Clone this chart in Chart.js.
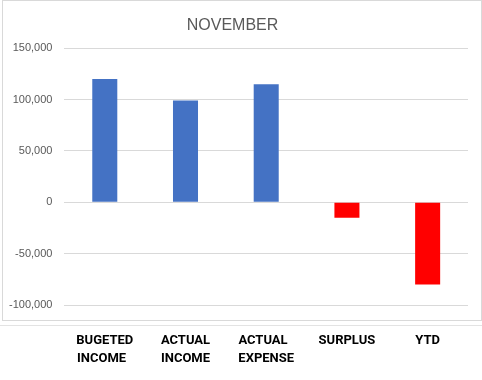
<!DOCTYPE html>
<html>
<head>
<meta charset="utf-8">
<script src="https://cdn.jsdelivr.net/npm/chart.js@4/dist/chart.umd.min.js"></script>
<style>
  html, body { margin: 0; padding: 0; background: #fff; }
  #wrap { position: relative; width: 482px; height: 380px; }
  #frame { position: absolute; left: 2px; top: 0; width: 478px; height: 319px; border: 1px solid #d9d9d9; pointer-events: none; }
  #rule { position: absolute; left: 0; top: 325px; width: 482px; height: 0; border-top: 1px solid #e3e3e3; pointer-events: none; }
  canvas { position: absolute; left: 0; top: 0; }
</style>
</head>
<body>
<div id="wrap">
  <canvas id="c" width="482" height="380"></canvas>
  <div id="frame"></div>
  <div id="rule"></div>
</div>
<script>
const title = "NOVEMBER";
const categories = [["BUGETED", "INCOME"], ["ACTUAL", "INCOME"], ["ACTUAL", "EXPENSE"], ["SURPLUS"], ["YTD"]];
const values = [120000, 99000, 115000, -15000, -80000];
const barColors = ["#4472C4", "#4472C4", "#4472C4", "#FF0000", "#FF0000"];
const yMin = -100000, yMax = 150000, yStep = 50000;

const labelFontCss = "bold 13px Roboto, 'Liberation Sans', sans-serif";
const labelFont = { family: "Roboto, 'Liberation Sans', sans-serif", size: 13, weight: "bold", lineHeight: 18 / 13 };

// pad shorter lines with trailing spaces so each multi-line label reads left-aligned
const mctx = document.createElement("canvas").getContext("2d");
mctx.font = labelFontCss;
function padLines(lines) {
  if (lines.length < 2) return lines;
  const w = lines.map(l => mctx.measureText(l).width);
  const maxW = Math.max(...w);
  return lines.map(l => {
    let s = l;
    while (mctx.measureText(s + " ").width <= maxW + 1.5) s += " ";
    return s;
  });
}

function draw() {
  mctx.font = labelFontCss;
  const labels = categories.map(padLines);
  new Chart(document.getElementById("c"), {
    type: "bar",
    data: {
      labels: labels,
      datasets: [{
        data: values,
        backgroundColor: barColors,
        borderWidth: 0,
        barPercentage: 0.31,
        categoryPercentage: 1.0
      }]
    },
    options: {
      responsive: false,
      animation: false,
      devicePixelRatio: 1,
      layout: { padding: { left: -3, right: 14, top: 15.5, bottom: -15 } },
      plugins: {
        legend: { display: false },
        tooltip: { enabled: false },
        title: {
          display: true,
          text: title,
          color: "#595959",
          font: { family: "'Liberation Sans', Arial, sans-serif", size: 16, weight: "normal" },
          padding: { top: 0, bottom: 13.5 }
        }
      },
      scales: {
        x: {
          grid: { display: false, drawTicks: false },
          border: { display: false },
          ticks: {
            color: "#000000",
            font: labelFont,
            padding: 27,
            maxRotation: 0,
            autoSkip: false
          }
        },
        y: {
          min: yMin,
          max: yMax,
          grid: { color: "#d9d9d9", drawTicks: false, lineWidth: 1 },
          border: { display: false },
          ticks: {
            stepSize: yStep,
            color: "#595959",
            font: { family: "'Liberation Sans', Arial, sans-serif", size: 11 },
            padding: 12,
            callback: v => v.toLocaleString("en-US")
          }
        }
      }
    }
  });
}
if (document.fonts && document.fonts.load) {
  document.fonts.load(labelFontCss).then(draw, draw);
} else { draw(); }
</script>
</body>
</html>
